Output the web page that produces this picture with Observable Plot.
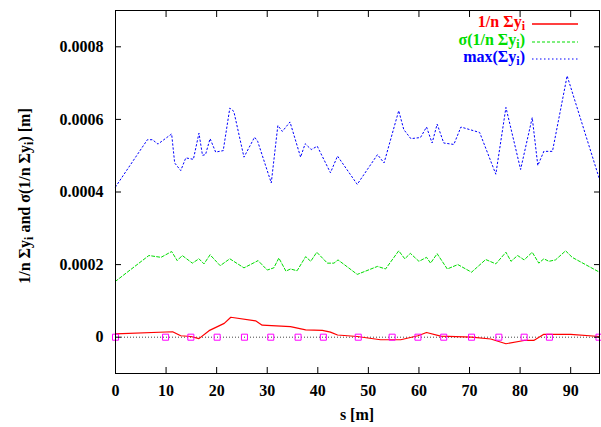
<!DOCTYPE html>
<html>
<head>
<meta charset="utf-8">
<script src="https://cdn.jsdelivr.net/npm/d3@7"></script>
<script src="https://cdn.jsdelivr.net/npm/@observablehq/plot@0.6"></script>
<style>
  html, body { margin: 0; padding: 0; background: white; }
  #chart { width: 601px; height: 427px; }
</style>
</head>
<body>
<div id="chart"></div>
<script>
// ---- data ----
const meanS = [0, 11.3, 12.9, 14.9, 16.5, 18.5, 21.5, 22.8, 27.7, 29.0, 34.6, 37.6, 40.9, 42.5, 43.9, 47.8, 52.4, 56.4, 59.8, 61.5, 64.3, 70.4, 74.2, 77.2, 80.8, 82.7, 84.7, 90.0, 95.7];
const meanV = [9e-6, 15e-6, 4e-6, 2e-6, -4e-6, 18e-6, 38e-6, 55e-6, 45e-6, 33e-6, 29e-6, 20e-6, 19e-6, 14e-6, 6e-6, 2e-6, -7e-6, -7e-6, 4e-6, 13e-6, 3e-6, 0, -5e-6, -18e-6, -9e-6, -9e-6, 8e-6, 8e-6, 2e-6];

const sigS = [0, 6.6, 9.0, 11.1, 12.2, 13.2, 15.2, 16.5, 17.5, 18.7, 20.7, 22.6, 25.4, 28.2, 30.0, 31.3, 32.3, 33.7, 34.6, 35.9, 37.6, 38.6, 39.8, 41.9, 43.2, 44.0, 47.8, 51.8, 53.4, 56.0, 57.2, 58.3, 60.0, 61.5, 62.3, 63.6, 65.6, 67.7, 70.4, 73.2, 75.2, 77.2, 78.2, 79.5, 80.8, 82.4, 83.7, 84.7, 85.7, 87.0, 89.0, 90.3, 95.7];
const sigV = [154e-6, 225e-6, 220e-6, 236e-6, 211e-6, 225e-6, 204e-6, 216e-6, 202e-6, 227e-6, 197e-6, 216e-6, 191e-6, 211e-6, 185e-6, 191e-6, 218e-6, 182e-6, 188e-6, 183e-6, 222e-6, 209e-6, 234e-6, 204e-6, 204e-6, 213e-6, 173e-6, 195e-6, 188e-6, 238e-6, 216e-6, 231e-6, 209e-6, 220e-6, 204e-6, 230e-6, 188e-6, 200e-6, 179e-6, 214e-6, 202e-6, 234e-6, 209e-6, 225e-6, 213e-6, 234e-6, 204e-6, 216e-6, 209e-6, 213e-6, 238e-6, 220e-6, 179e-6];

const maxS = [0, 6.3, 7.3, 8.4, 11.1, 11.7, 12.9, 13.9, 15.4, 16.5, 17.2, 17.8, 18.7, 19.8, 21.3, 22.6, 23.4, 25.4, 27.5, 28.1, 30.8, 32.1, 33.0, 34.5, 36.6, 37.5, 38.7, 39.9, 42.5, 43.9, 47.8, 51.8, 53.1, 56.0, 57.0, 58.4, 60.3, 61.5, 62.6, 63.6, 64.9, 66.9, 68.3, 72.0, 75.2, 77.2, 80.1, 82.4, 83.5, 84.7, 86.4, 89.3, 95.7];
const maxV = [414e-6, 544e-6, 544e-6, 532e-6, 560e-6, 480e-6, 459e-6, 494e-6, 490e-6, 562e-6, 501e-6, 503e-6, 547e-6, 510e-6, 514e-6, 631e-6, 622e-6, 496e-6, 551e-6, 540e-6, 425e-6, 583e-6, 567e-6, 593e-6, 496e-6, 533e-6, 517e-6, 526e-6, 453e-6, 499e-6, 421e-6, 503e-6, 480e-6, 624e-6, 572e-6, 547e-6, 550e-6, 579e-6, 535e-6, 587e-6, 535e-6, 531e-6, 579e-6, 564e-6, 449e-6, 633e-6, 462e-6, 605e-6, 473e-6, 512e-6, 512e-6, 720e-6, 435e-6];

const markS = [0, 9.9, 14.9, 20.1, 25.5, 30.7, 36.1, 41.1, 48.0, 54.7, 59.8, 64.9, 70.4, 75.8, 80.8, 85.8, 95.6];
const markV = markS.map(() => 0);

const xTicks = [0, 10, 20, 30, 40, 50, 60, 70, 80, 90];
const xTickLabels = ["0", "10", "20", "30", "40", "50", "60", "70", "80", "90"];
const yTicks = [0, 0.0002, 0.0004, 0.0006, 0.0008];
const yTickLabels = ["0", "0.0002", "0.0004", "0.0006", "0.0008"];

const seriesNames = ["1/n \u03A3y", "\u03C3(1/n \u03A3y", "max(\u03A3y"];
const seriesSuffix = ["", ")", ")"];
const seriesColors = ["#ff0000", "#00dd00", "#0000ff"];
const seriesDash = ["none", "3,2", "1.5,2.5"];

// ---- tables ----
const meanData = meanS.map((s, i) => ({s, v: meanV[i]}));
const sigData = sigS.map((s, i) => ({s, v: sigV[i]}));
const maxData = maxS.map((s, i) => ({s, v: maxV[i]}));
const markData = markS.map((s, i) => ({s, v: markV[i]}));

const FONT = "\"Liberation Serif\", \"DejaVu Serif\", \"Times New Roman\", serif";

const chart = Plot.plot({
  width: 601,
  height: 427,
  marginLeft: 115,
  marginRight: 2,
  marginTop: 10,
  marginBottom: 54,
  style: {fontFamily: FONT, fontSize: "16px", fontWeight: "bold", background: "white", color: "black", overflow: "visible"},
  x: {domain: [0, 95.7]},
  y: {domain: [-0.0001, 0.0009]},
  marks: [
    Plot.ruleY([0], {stroke: "#444", strokeDasharray: "1,2", strokeWidth: 1}),
    Plot.line(maxData, {x: "s", y: "v", stroke: seriesColors[2], strokeWidth: 1, strokeDasharray: seriesDash[2]}),
    Plot.line(sigData, {x: "s", y: "v", stroke: seriesColors[1], strokeWidth: 1, strokeDasharray: seriesDash[1]}),
    Plot.line(meanData, {x: "s", y: "v", stroke: seriesColors[0], strokeWidth: 1.2}),
    Plot.dot(markData, {x: "s", y: "v", symbol: "square", r: 3.4, stroke: "#ff00ff", fill: "none", strokeWidth: 1}),
    Plot.frame({stroke: "black", strokeWidth: 1}),
    Plot.axisX(xTicks, {anchor: "bottom", tickSize: -6, tickPadding: 17, tickFormat: (d, i) => xTickLabels[i], label: null}),
    Plot.axisX(xTicks, {anchor: "top", tickSize: -6, tickFormat: () => "", label: null}),
    Plot.axisY(yTicks, {anchor: "left", tickSize: -6, tickPadding: 18, tickFormat: (d, i) => yTickLabels[i], label: null}),
    Plot.axisY(yTicks, {anchor: "right", tickSize: -6, tickFormat: () => "", label: null})
  ]
});

document.getElementById("chart").appendChild(chart);

// ---- labels & legend with subscripts ----
const svg = d3.select(chart);

function styleText(sel, color) {
  return sel.style("font-family", FONT).style("font-weight", "bold").style("font-size", "16px").style("fill", color);
}

function addSubText(g, parts, color) {
  const t = styleText(g.append("text"), color);
  parts.forEach((p, k) => {
    const ts = t.append("tspan").text(p).style("font-family", FONT).style("font-weight", "bold").style("fill", color);
    if (k % 2 === 0) {
      ts.attr("dy", k === 0 ? 0 : -3).style("font-size", "16px");
    } else {
      ts.attr("dy", 3).style("font-size", "12px");
    }
  });
  return t;
}

// x label
styleText(svg.append("text"), "black")
  .attr("x", 357).attr("y", 420)
  .style("text-anchor", "middle")
  .text("s [m]");

// y label
const yl = svg.append("g").attr("transform", "translate(30,196) rotate(-90)");
addSubText(yl, ["1/n \u03A3y", "i", " and \u03C3(1/n \u03A3y", "i", ") [m]"], "black")
  .style("text-anchor", "middle");

// legend
const leg = svg.append("g");
const rowY = [24, 42, 59];
seriesNames.forEach((name, i) => {
  const parts = seriesSuffix[i] ? [name, "i", seriesSuffix[i]] : [name, "i"];
  addSubText(leg, parts, seriesColors[i])
    .attr("x", 525).attr("y", rowY[i] + 2.5)
    .style("text-anchor", "end");
  leg.append("line")
    .attr("x1", 532).attr("x2", 578)
    .attr("y1", rowY[i]).attr("y2", rowY[i])
    .attr("stroke", seriesColors[i])
    .style("stroke", seriesColors[i])
    .style("stroke-width", i === 0 ? "1.5px" : "1.2px")
    .style("stroke-dasharray", seriesDash[i])
    .style("fill", "none");
});

// make every axis text use the serif bold font too
svg.selectAll("g[aria-label$='tick label'] text").each(function () {
  d3.select(this).style("font-family", FONT).style("font-weight", "bold").style("font-size", "16px");
});
</script>
</body>
</html>
